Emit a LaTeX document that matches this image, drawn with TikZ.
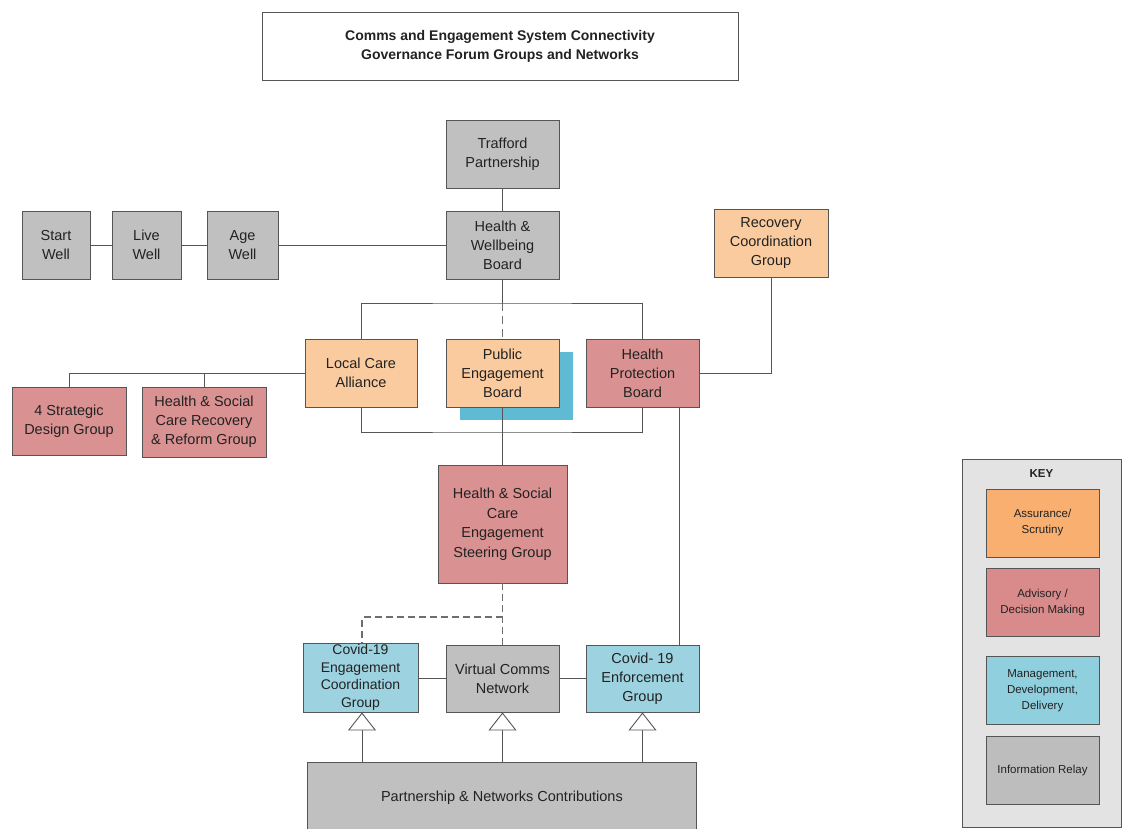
\documentclass[tikz,border=0pt]{standalone}
\usepackage{fontspec}
\setmainfont{Liberation Sans}
\usetikzlibrary{arrows.meta}
\definecolor{gfill}{HTML}{C0C0C0}
\definecolor{ofill}{HTML}{FBCBA0}
\definecolor{rfill}{HTML}{D99291}
\definecolor{bfill}{HTML}{9DD3E0}
\definecolor{shadowblue}{HTML}{5FBBD3}
\definecolor{edge}{HTML}{555555}
\definecolor{dashgray}{HTML}{6E6E6E}
\definecolor{keybg}{HTML}{E3E3E3}
\definecolor{korange}{HTML}{F8AF70}
\definecolor{kred}{HTML}{D98A8A}
\definecolor{kblue}{HTML}{90CFDE}
\definecolor{kgray}{HTML}{BDBDBD}
\definecolor{txt}{HTML}{222222}
\tikzset{
  box/.style={draw=edge, line width=0.9pt, inner sep=0pt, align=center, text=txt,
    font=\fontsize{14.5}{19}\selectfont, minimum width=113pt, minimum height=68pt},
  gbox/.style={box, fill=gfill},
  obox/.style={box, fill=ofill},
  rbox/.style={box, fill=rfill},
  bbox/.style={box, fill=bfill},
  kbox/.style={draw=edge, line width=0.8pt, inner sep=0pt, align=center, text=txt,
    font=\fontsize{11.5}{16}\selectfont, minimum width=113pt, minimum height=68pt},
  conn/.style={draw=edge, line width=0.9pt},
  dconn/.style={draw=dashgray, line width=1pt, dash pattern=on 8pt off 5pt},
  ddconn/.style={draw=dashgray, line width=1.8pt, dash pattern=on 7pt off 4pt},
  uparrow/.style={draw=edge, line width=0.9pt, -{Triangle[fill=white, length=18pt, width=28pt, line width=0.9pt]}}
}
\begin{document}
\begin{tikzpicture}[x=1pt, y=-1pt]
\useasboundingbox (0,0) rectangle (1124,829);
\fill[white] (0,0) rectangle (1124,829);

% title
\node[draw=edge, line width=0.9pt, minimum width=476pt, minimum height=68pt, inner sep=0pt, align=center,
  font=\bfseries\fontsize{14}{19}\selectfont, text=txt] (title) at (500,46)
  {Comms and Engagement System Connectivity\\Governance Forum Groups and Networks};

% top row
\node[gbox] (tp) at (502.5,154) {Trafford\\Partnership};
\node[gbox] (hwb) at (502.5,245) {Health \&\\Wellbeing\\Board};
\node[gbox, minimum width=68pt] (sw) at (56,245) {Start\\Well};
\node[gbox, minimum width=69pt] (lw) at (146.5,245) {Live\\Well};
\node[gbox, minimum width=71pt] (aw) at (242.5,245) {Age\\Well};
\node[obox, minimum width=114pt] (rcg) at (771,243) {Recovery\\Coordination\\Group};

% middle row
\fill[shadowblue] (460,352) rectangle (573,420);
\node[obox, minimum width=112pt] (lca) at (361,373) {Local Care\\Alliance};
\node[obox] (peb) at (502.5,373) {Public\\Engagement\\Board};
\node[rbox] (hpb) at (642.5,373) {Health\\Protection\\Board};

\node[rbox, minimum width=114pt] (sdg) at (69,421) {4 Strategic\\Design Group};
\node[rbox, minimum width=124pt, minimum height=70pt] (rrg) at (204,422) {Health \& Social\\Care Recovery\\\& Reform Group};

% steering
\node[rbox, minimum width=129pt, minimum height=118pt, font=\fontsize{14.5}{19.5}\selectfont] (hsc) at (502.5,524)
  {Health \& Social\\Care\\Engagement\\Steering Group};

% lower row
\node[bbox, minimum width=115pt, minimum height=69pt, font=\fontsize{14}{17.5}\selectfont] (ecg) at (360.5,677.5)
  {Covid-19\\Engagement\\Coordination\\Group};
\node[gbox, minimum height=67pt] (vcn) at (502.5,678.5) {Virtual Comms\\Network};
\node[bbox, minimum height=67pt] (ceg) at (642.5,678.5) {Covid- 19\\Enforcement\\Group};

\node[gbox, minimum width=389pt, minimum height=70pt, anchor=north west] (pnc) at (307,762)
  {Partnership \& Networks Contributions};

% connectors top
\draw[conn] (tp.south) -- (hwb.north);
\draw[conn] (sw.east) -- (lw.west);
\draw[conn] (lw.east) -- (aw.west);
\draw[conn] (aw.east) -- (hwb.west);

\coordinate (jt) at (502.5,303);
\draw[conn] (hwb.south) -- (jt);
\draw[dconn] (jt) -- (peb.north);
\draw[conn] (lca.north) |- (jt) -| (hpb.north);
\coordinate (jb) at (502.5,432);
\draw[conn] (lca.south) |- (jb) -| (hpb.south);
\draw[conn] (peb.south) -- (hsc.north);
\draw[conn] (rcg.south) |- (hpb.east);

% left branch
\coordinate (lb) at (204,373);
\draw[conn] (lca.west) -- (lb) -- (rrg.north);
\draw[conn] (lb) -| (sdg.north);

% HPB to enforcement
\draw[conn] ([xshift=37pt]hpb.south) -- ([xshift=37pt]ceg.north);

% dashed from steering
\coordinate (dj) at (502.5,617);
\draw[ddconn] (hsc.south) -- (vcn.north);
\draw[ddconn] (dj) -| ([xshift=1.5pt]ecg.north);

\draw[conn] (vcn.west -| ecg.east) -- (vcn.west);
\draw[conn] (vcn.east) -- (ceg.west);

% arrows from contributions
\draw[uparrow] (pnc.north -| ecg.south) ++(1.5,0) -- ([xshift=1.5pt]ecg.south);
\draw[uparrow] (pnc.north -| vcn.south) -- (vcn.south);
\draw[uparrow] (pnc.north -| ceg.south) -- (ceg.south);

% key
\node[draw=edge, line width=0.8pt, fill=keybg, minimum width=159pt, minimum height=368pt, inner sep=0pt, anchor=north west] (keyframe) at (962,459) {};
\node[font=\bfseries\fontsize{11.5}{14}\selectfont, text=txt] (keytitle) at (1041.5,474) {KEY};
\node[kbox, fill=korange] (k1) at (1042.5,523) {Assurance/\\Scrutiny};
\node[kbox, fill=kred] (k2) at (1042.5,602.5) {Advisory /\\Decision Making};
\node[kbox, fill=kblue] (k3) at (1042.5,690.5) {Management,\\Development,\\Delivery};
\node[kbox, fill=kgray] (k4) at (1042.5,770.5) {Information Relay};
\end{tikzpicture}
\end{document}
